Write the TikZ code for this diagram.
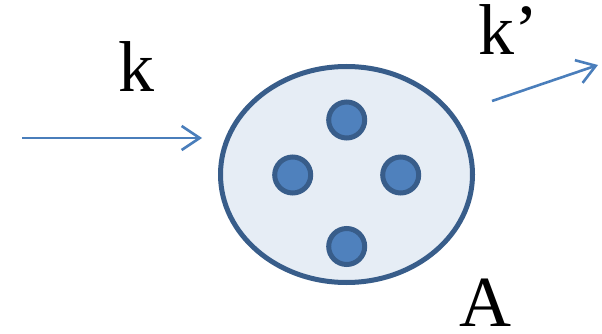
\documentclass[tikz,border=0pt]{standalone}
\usepackage{fontspec}
\setmainfont{Liberation Serif}
\usetikzlibrary{arrows.meta,shapes.geometric}
\definecolor{rim}{HTML}{385D8A}
\definecolor{ballfill}{HTML}{4F81BD}
\definecolor{bodyfill}{HTML}{E6EDF5}
\definecolor{arrowblue}{HTML}{4A7EBB}
\tikzset{
  nucleus/.style={draw=rim, fill=bodyfill, line width=5pt, ellipse, minimum width=252pt, minimum height=216pt, inner sep=0pt},
  ball/.style={draw=rim, fill=ballfill, line width=5pt, circle, minimum size=36pt, inner sep=0pt},
  beam/.style={draw=arrowblue, line width=2.6pt, -{Straight Barb[length=18pt,width=24pt,line width=2.6pt]}},
  lbl/.style={font=\fontsize{72}{80}\selectfont, anchor=base, inner sep=0pt}
}
\begin{document}
\begin{tikzpicture}[x=1pt,y=-1pt]
\useasboundingbox (0,0) rectangle (602,334);
\node[nucleus] (nuc) at (346.5,174.5) {};
\node[ball] (b1) at (346.7,120) {};
\node[ball] (b2) at (292.7,175) {};
\node[ball] (b3) at (400.7,175) {};
\node[ball] (b4) at (346.7,246.5) {};
\coordinate (kin) at (22,138);
\coordinate (kend) at (202,138);
\coordinate (kout) at (492,101);
\coordinate (kfar) at (598,65);
\draw[beam] (kin) -- (kend);
\draw[beam] (kout) -- (kfar);
\node[lbl] (lk) at (136,92) {k};
\node[lbl] (lkp) at (508,55) {k’};
\node[lbl] (la) at (485,326) {A};
\end{tikzpicture}
\end{document}
